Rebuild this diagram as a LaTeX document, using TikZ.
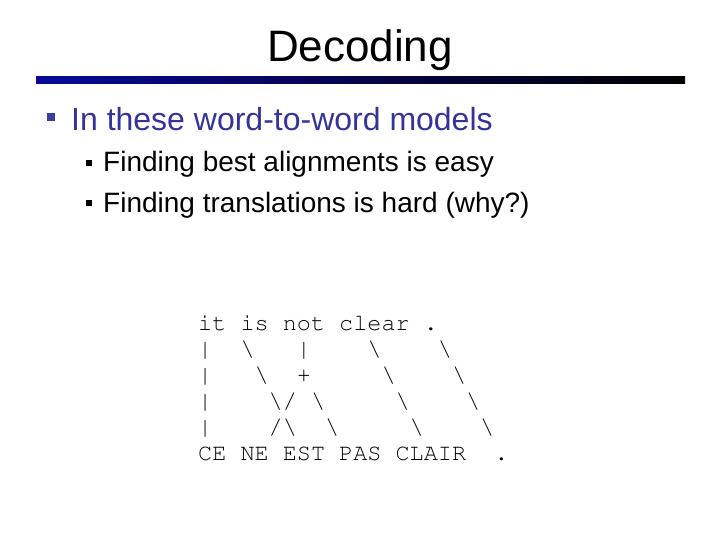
\documentclass[tikz,border=0pt]{standalone}
\usepackage[T1]{fontenc}
\usepackage{fontspec}
\setmainfont{Liberation Sans}
\usepackage{tikz}
\usetikzlibrary{shapes,positioning}
\definecolor{barblue}{RGB}{8,8,150}
\definecolor{navytext}{RGB}{51,51,153}
\definecolor{bulblue}{RGB}{60,60,165}
\newcommand{\asbs}{\textbackslash}
\newcommand{\asbar}{\textbar}
\tikzset{ttl/.style={inner sep=0pt,anchor=base,font=\fontsize{44}{50}\selectfont},
  lvlone/.style={inner sep=0pt,anchor=base west,text=navytext,font=\fontsize{32}{38}\selectfont},
  lvltwo/.style={inner sep=0pt,anchor=base west,font=\fontsize{28}{34}\selectfont},
  bulone/.style={rectangle,fill=bulblue,inner sep=0pt,minimum size=8pt},
  bultwo/.style={rectangle,fill=black,inner sep=0pt,minimum size=6pt},
  asc/.style={inner sep=0pt,anchor=base west,font=\fontencoding{T1}\fontfamily{pcr}\fontsize{23.5}{26}\selectfont}}

\begin{document}
\begin{tikzpicture}[x=1pt,y=-1pt]
    \useasboundingbox (0,0) rectangle (720,540);
    \node[ttl] (title) at (360,62) {Decoding};
    \shade[left color=barblue,right color=black] (36,77) rectangle (685,84);

    \node[bulone] (b1) at (51,117.5) {};
    \node[lvlone] (t1) at (71,131) {In these word-to-word models};
    \node[bultwo] (b2) at (89,163) {};
    \node[lvltwo] (t2) at (103,172) {Finding best alignments is easy};
    \node[bultwo] (b3) at (89,203) {};
    \node[lvltwo] (t3) at (103,212) {Finding translations is hard (why?)};

    % alignment drawn in ascii
    \node[asc] (e) at (198,330) {it~is~not~clear~.};
    \node[asc] (r1) at (198,356) {\asbar~~\asbs~~~\asbar~~~~\asbs~~~~\asbs};
    \node[asc] (r2) at (198,382) {\asbar~~~\asbs~~+~~~~~\asbs~~~~\asbs};
    \node[asc] (r3) at (198,408) {\asbar~~~~\asbs/~\asbs~~~~~\asbs~~~~\asbs};
    \node[asc] (r4) at (198,434) {\asbar~~~~/\asbs~~\asbs~~~~~\asbs~~~~\asbs};
    \node[asc] (f) at (198,460) {CE~NE~EST~PAS~CLAIR~~.};
\end{tikzpicture}
\end{document}
